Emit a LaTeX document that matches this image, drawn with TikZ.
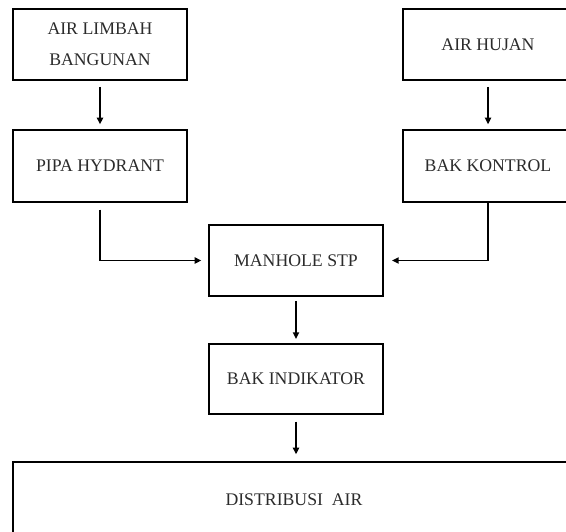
\documentclass[tikz,border=0pt]{standalone}
\usepackage{fontspec}
\setmainfont{Liberation Serif}
\usepackage{tikz}
\usetikzlibrary{arrows.meta,positioning,calc}
\definecolor{textgray}{HTML}{2B2B2B}

\begin{document}
\begin{tikzpicture}[
  x=0.75pt, y=-0.75pt,
  font=\fontsize{13.3}{23}\selectfont,
  arr/.style={-{Triangle[length=5pt, width=4.5pt]}, line width=1.4pt},
  box/.style={draw, line width=1.4pt, align=center, text=textgray, inner sep=0pt},
]
\clip (0,0) rectangle (566,531);
\fill[white] (0,0) rectangle (566,531);

\node[box, minimum width=130.5pt, minimum height=53.25pt] (limbah) at (100,44.5)
  {AIR LIMBAH\\BANGUNAN};
\node[box, minimum width=127.5pt, minimum height=53.25pt] (hujan) at (488,44.5)
  {AIR HUJAN};
\node[box, minimum width=130.5pt, minimum height=54pt] (pipa) at (100,166)
  {PIPA HYDRANT};
\node[box, minimum width=127.5pt, minimum height=54pt] (kontrol) at (488,166)
  {BAK KONTROL};
\node[box, minimum width=130.5pt, minimum height=53.25pt] (manhole) at (296,260.5)
  {MANHOLE STP};
\node[box, minimum width=130.5pt, minimum height=52.5pt] (indikator) at (296,379)
  {BAK INDIKATOR};
\node[box, minimum width=421.5pt, minimum height=57pt] (distribusi) at (294,500)
  {DISTRIBUSI\ \ AIR};

\draw[arr, shorten <=4.5pt, shorten >=3.5pt] (limbah) -- (pipa);
\draw[arr, shorten <=4.5pt, shorten >=3.5pt] (hujan) -- (kontrol);
\draw[arr, shorten <=5pt, shorten >=5pt] (pipa.south) |- (manhole.west);
\draw[arr, shorten >=6pt] (kontrol.south) |- (manhole.east);
\draw[arr, shorten <=3pt, shorten >=3pt] (manhole) -- (indikator);
\draw[arr, shorten <=5pt, shorten >=5pt] (indikator) -- (distribusi.north -| indikator);
\end{tikzpicture}
\end{document}
